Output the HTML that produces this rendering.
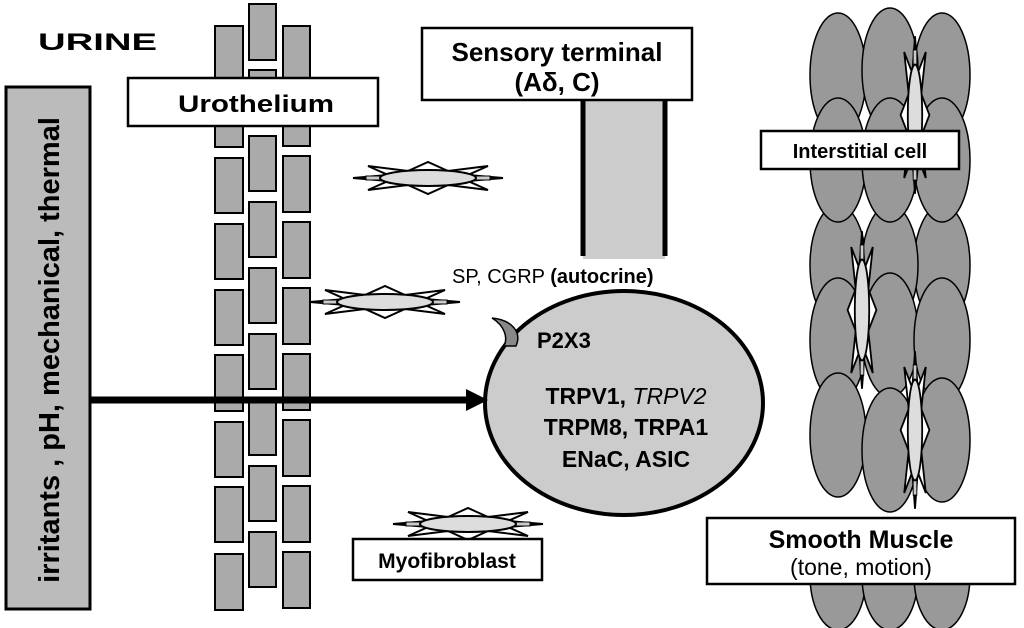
<!DOCTYPE html>
<html><head><meta charset="utf-8"><style>
html,body{margin:0;padding:0;background:#fff;}
svg{display:block;font-family:"Liberation Sans",sans-serif;}
</style></head><body>
<svg width="1024" height="628" viewBox="0 0 1024 628" xmlns="http://www.w3.org/2000/svg">
<defs>
<g id="star">
  <path d="M-75,0 L-40,-3 L-60,-12 L-20,-7 L0,-16 L20,-7 L60,-12 L40,-3 L75,0 L40,3 L60,12 L20,7 L0,16 L-20,7 L-60,12 L-40,3 Z" fill="#fff" stroke="#000" stroke-width="2"/>
  <rect x="-62" y="-2" width="14" height="4" fill="#ccc" stroke="#000" stroke-width="1"/>
  <rect x="48" y="-2" width="14" height="4" fill="#ccc" stroke="#000" stroke-width="1"/>
  <ellipse cx="0" cy="0" rx="48" ry="8" fill="#ddd" stroke="#000" stroke-width="2"/>
</g>
</defs>

<g fill="#999" stroke="#000" stroke-width="1.5">
  <ellipse cx="838" cy="575" rx="28" ry="55"/>
  <ellipse cx="890" cy="575" rx="28" ry="55"/>
  <ellipse cx="942" cy="575" rx="28" ry="55"/>
  <ellipse cx="838" cy="265" rx="28" ry="60"/>
  <ellipse cx="942" cy="265" rx="28" ry="60"/>
  <ellipse cx="890" cy="265" rx="28" ry="60"/>
  <ellipse cx="838" cy="75" rx="28" ry="62"/>
  <ellipse cx="942" cy="75" rx="28" ry="62"/>
  <ellipse cx="890" cy="70" rx="28" ry="62"/>
  <ellipse cx="838" cy="160" rx="28" ry="62"/>
  <ellipse cx="942" cy="160" rx="28" ry="62"/>
  <ellipse cx="890" cy="160" rx="28" ry="62"/>
  <ellipse cx="838" cy="340" rx="28" ry="62"/>
  <ellipse cx="890" cy="335" rx="28" ry="62"/>
  <ellipse cx="942" cy="340" rx="28" ry="62"/>
  <ellipse cx="838" cy="435" rx="28" ry="62"/>
  <ellipse cx="890" cy="450" rx="28" ry="62"/>
  <ellipse cx="942" cy="440" rx="28" ry="62"/>
</g>
<use href="#star" transform="translate(915,115) rotate(90) scale(1.05,0.9)"/>
<use href="#star" transform="translate(862,310) rotate(90) scale(1.05,0.9)"/>
<use href="#star" transform="translate(915,430) rotate(90) scale(1.05,0.9)"/>

<rect x="761" y="131" width="198" height="38" fill="#fff" stroke="#000" stroke-width="2.5"/>
<text x="860" y="158" font-size="20" font-weight="bold" text-anchor="middle">Interstitial cell</text>

<rect x="707" y="518" width="308" height="66" fill="#fff" stroke="#000" stroke-width="2.5"/>
<text x="861" y="548" font-size="25" font-weight="bold" text-anchor="middle">Smooth Muscle</text>
<text x="861" y="575" font-size="23" text-anchor="middle">(tone, motion)</text>

<g fill="#aaa" stroke="#000" stroke-width="2">
  <rect x="215" y="26" width="28" height="52"/>
  <rect x="215" y="92" width="28" height="55"/>
  <rect x="215" y="158" width="28" height="55"/>
  <rect x="215" y="224" width="28" height="55"/>
  <rect x="215" y="290" width="28" height="55"/>
  <rect x="215" y="355" width="28" height="56"/>
  <rect x="215" y="422" width="28" height="55"/>
  <rect x="215" y="487" width="28" height="55"/>
  <rect x="215" y="554" width="28" height="56"/>
  <rect x="249" y="4" width="27" height="56"/>
  <rect x="249" y="70" width="27" height="55"/>
  <rect x="249" y="136" width="27" height="55"/>
  <rect x="249" y="202" width="27" height="55"/>
  <rect x="249" y="268" width="27" height="55"/>
  <rect x="249" y="334" width="27" height="55"/>
  <rect x="249" y="400" width="27" height="55"/>
  <rect x="249" y="466" width="27" height="55"/>
  <rect x="249" y="532" width="27" height="55"/>
  <rect x="283" y="26" width="27" height="52"/>
  <rect x="283" y="92" width="27" height="54"/>
  <rect x="283" y="156" width="27" height="56"/>
  <rect x="283" y="222" width="27" height="56"/>
  <rect x="283" y="288" width="27" height="56"/>
  <rect x="283" y="354" width="27" height="56"/>
  <rect x="283" y="420" width="27" height="56"/>
  <rect x="283" y="486" width="27" height="56"/>
  <rect x="283" y="552" width="27" height="56"/>
</g>
<rect x="128" y="78" width="250" height="48" fill="#fff" stroke="#000" stroke-width="2.5"/>
<text x="178" y="112" font-size="24" font-weight="bold" textLength="156" lengthAdjust="spacingAndGlyphs">Urothelium</text>

<text x="38" y="50" font-size="24" font-weight="bold" textLength="119" lengthAdjust="spacingAndGlyphs">URINE</text>

<rect x="6" y="87" width="84" height="522" fill="#bbb" stroke="#000" stroke-width="3"/>
<text transform="translate(59,350) rotate(-90)" font-size="29" font-weight="bold" text-anchor="middle">irritants , pH, mechanical, thermal</text>

<use href="#star" transform="translate(428,178)"/>
<use href="#star" transform="translate(385,302)"/>
<use href="#star" transform="translate(468,524)"/>

<rect x="353" y="539" width="189" height="41" fill="#fff" stroke="#000" stroke-width="2.5"/>
<text x="447" y="568" font-size="21" font-weight="bold" text-anchor="middle">Myofibroblast</text>

<rect x="583" y="99" width="82" height="160" fill="#ccc"/>
<line x1="583" y1="99" x2="583" y2="256" stroke="#000" stroke-width="5"/>
<line x1="665" y1="99" x2="665" y2="256" stroke="#000" stroke-width="5"/>
<rect x="422" y="28" width="270" height="72" fill="#fff" stroke="#000" stroke-width="2.5"/>
<text x="557" y="61" font-size="26" font-weight="bold" text-anchor="middle">Sensory terminal</text>
<text x="557" y="91" font-size="26" font-weight="bold" text-anchor="middle">(Aδ, C)</text>

<ellipse cx="624" cy="403" rx="139" ry="112" fill="#ccc" stroke="#000" stroke-width="4"/>
<path d="M492,318 C505,326 508,338 504,346 L516,346 C522,332 512,320 492,318 Z" fill="#888" stroke="#000" stroke-width="1.5"/>
<text x="452" y="283" font-size="20">SP, CGRP <tspan font-weight="bold">(autocrine)</tspan></text>
<text x="537" y="348" font-size="22" font-weight="bold">P2X3</text>
<g font-size="23" font-weight="bold" text-anchor="middle">
<text x="626" y="404">TRPV1, <tspan font-style="italic" font-weight="normal">TRPV2</tspan></text>
<text x="626" y="435">TRPM8, TRPA1</text>
<text x="626" y="467">ENaC, ASIC</text>
</g>

<line x1="90" y1="400" x2="470" y2="400" stroke="#000" stroke-width="7"/>
<polygon points="466,389 488,400 466,411" fill="#000"/>
</svg>
</body></html>
